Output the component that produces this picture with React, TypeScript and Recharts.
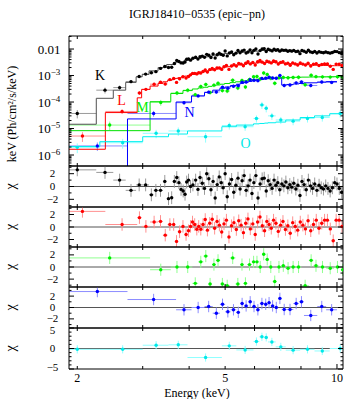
import React from "react";
import { ComposedChart, Scatter, Line, XAxis, YAxis, ErrorBar, ReferenceLine } from "recharts";

const FONT = "'Liberation Serif', 'Times New Roman', serif";

// energy range (keV) and flux range of the spectrum panel
const eRange = [1.9, 10.38];
const fluxRange = [3.85e-7, 0.031];

const xTicks = [2, 3, 4, 5, 6, 7, 8, 9, 10];
const xTickLabels = [2, 5, 10];
const fluxDecades = [-7, -6, -5, -4, -3, -2];
const fluxLabelDecades = [-6, -5, -4, -3, -2];

// K (black): bin edges, flux, chi, model steps
const kEdges = [1.75, 2.25, 2.5, 2.7, 2.88, 2.99, 3.12, 3.21, 3.3, 3.4, 3.48, 3.56, 3.62, 3.68, 3.73, 3.78, 3.83, 3.88, 3.92, 3.96, 4.01, 4.06, 4.13, 4.2, 4.25, 4.31, 4.37, 4.43, 4.49, 4.55, 4.61, 4.67, 4.73, 4.79, 4.85, 4.91, 4.97, 5.03, 5.1, 5.17, 5.24, 5.31, 5.38, 5.45, 5.52, 5.59, 5.66, 5.73, 5.8, 5.87, 5.94, 6.01, 6.09, 6.17, 6.25, 6.33, 6.41, 6.49, 6.57, 6.65, 6.73, 6.81, 6.89, 6.97, 7.06, 7.15, 7.24, 7.33, 7.42, 7.51, 7.6, 7.7, 7.8, 7.9, 8.0, 8.1, 8.21, 8.32, 8.43, 8.54, 8.65, 8.77, 8.89, 9.01, 9.13, 9.26, 9.39, 9.52, 9.65, 9.79, 9.93, 10.07, 10.22, 10.37];
const kFlux = [3.7e-5, 2.8e-4, 3.5e-4, 5.9e-4, 9.2e-4, 1.13e-3, 1.27e-3, 1.4e-3, 1.86e-3, 2.2e-3,
  2.0e-3, 2.05e-3, 2.85e-3, 3.7e-3, 3.4e-3, 3.0e-3, 2.95e-3, 3.25e-3, 4.1e-3, 4.25e-3,
  3.8e-3, 4.5e-3, 4.9e-3, 4.2e-3, 5.1e-3, 5.4e-3, 4.9e-3, 6.3e-3, 5.8e-3, 4.8e-3,
  6.5e-3, 4.6e-3, 6.1e-3, 7.0e-3, 6.3e-3, 5.8e-3, 8.4e-3, 5.5e-3, 7.1e-3, 7.7e-3,
  6.1e-3, 7.0e-3, 8.8e-3, 7.2e-3, 8.4e-3, 9.1e-3, 7.1e-3, 7.7e-3, 9.3e-3, 7.2e-3,
  8.9e-3, 1.0e-2, 6.5e-3, 8.7e-3, 1.0e-2, 1.02e-2, 8.1e-3, 9.8e-3, 9.1e-3, 8.5e-3,
  9.9e-3, 9.0e-3, 9.4e-3, 8.3e-3, 9.2e-3, 8.9e-3, 9.1e-3, 8.2e-3, 8.7e-3, 8.3e-3,
  8.9e-3, 8.0e-3, 8.2e-3, 6.7e-3, 8.8e-3, 8.3e-3, 7.5e-3, 9.0e-3, 7.8e-3, 7.4e-3,
  8.1e-3, 7.1e-3, 7.9e-3, 7.5e-3, 7.2e-3, 7.7e-3, 7.3e-3, 7.0e-3, 7.4e-3, 8.1e-3,
  8.0e-3, 7.3e-3, 6.8e-3];
const kChi = [2.6, 2.2, 1.0, -0.6, 0.25, 0.25, -1.3, -0.6, -0.6, 0.8,
  -1.9, -1.75, 0.8, 1.4, 0.6, -0.45, -0.7, -1.2, 0.7, 1.0,
  0, 0.25, 1.0, -0.45, 1.4, 0.5, -0.3, 2.0, 1.2, -0.5,
  0.8, -1.8, 0.3, 1.5, 0.6, -0.2, 2.0, -1.6, 0.4, 1.1,
  -0.9, 0.2, 1.3, -0.4, 0.9, 1.7, -0.6, 0.1, 1.0, -1.1,
  0.6, 1.7, -1.8, 0.4, 1.2, 1.3, -0.7, 0.9, 0.3, -0.3,
  1.0, 0.2, 0.6, -0.5, 0.4, 0.1, 0.7, -0.2, 0.3, -0.1,
  0.5, -0.4, 0.2, -1.4, 0.8, 0.3, -0.5, 1.0, 0.1, -0.3,
  0.4, -0.6, 0.2, -0.2, -0.4, 0.1, -0.3, -0.7, -0.2, 0.6,
  0.4, -0.3, -0.9];
const kModelEdges = [1.75, 2.25, 2.5, 2.7, 2.88, 2.99, 3.12, 3.3, 3.48, 3.68, 3.88, 4.06, 4.31, 4.61, 4.97, 5.38, 5.8, 6.25, 6.73, 7.24, 7.8, 8.43, 9.13, 9.79, 10.37];
const kModel = [1.45e-5, 1.38e-4, 2.8e-4, 5.5e-4, 8.9e-4, 1.1e-3, 1.5e-3, 2.0e-3, 2.6e-3, 3.2e-3, 3.8e-3, 4.4e-3, 5.1e-3, 5.9e-3, 6.8e-3, 7.6e-3, 8.3e-3, 8.8e-3, 8.8e-3, 8.4e-3, 8.0e-3, 7.7e-3, 7.6e-3, 7.6e-3];

// L (red)
const lEdges = [1.75, 2.38, 2.9, 2.98, 3.14, 3.3, 3.4, 3.5, 3.6, 3.67, 3.73, 3.81, 3.89, 3.96, 4.01, 4.06, 4.11, 4.17, 4.22, 4.27, 4.33, 4.39, 4.45, 4.51, 4.58, 4.65, 4.72, 4.79, 4.86, 4.93, 5.0, 5.08, 5.16, 5.24, 5.32, 5.4, 5.48, 5.56, 5.64, 5.72, 5.8, 5.89, 5.98, 6.07, 6.16, 6.25, 6.34, 6.43, 6.52, 6.61, 6.7, 6.8, 6.9, 7.0, 7.1, 7.21, 7.32, 7.43, 7.54, 7.66, 7.78, 7.9, 8.03, 8.16, 8.29, 8.43, 8.57, 8.72, 8.87, 9.02, 9.18, 9.34, 9.51, 9.68, 9.86, 10.04, 10.23, 10.4];
const lFlux = [5.2e-6, 4.4e-5, 2.2e-4, 3.0e-4, 4.7e-4, 5.6e-4, 4.8e-4, 7.0e-4, 7.7e-4, 5.5e-4,
  7.5e-4, 9.0e-4, 8.0e-4, 9.2e-4, 1.06e-3, 1.2e-3, 1.2e-3, 1.15e-3, 1.27e-3, 1.24e-3,
  1.42e-3, 1.62e-3, 1.36e-3, 1.67e-3, 1.86e-3, 1.66e-3, 1.95e-3, 1.92e-3, 1.7e-3, 2.13e-3,
  2.4e-3, 1.7e-3, 2.3e-3, 2.55e-3, 2.3e-3, 2.85e-3, 2.7e-3, 2.35e-3, 2.9e-3, 3.3e-3,
  2.75e-3, 3.1e-3, 2.5e-3, 3.3e-3, 3.7e-3, 3.2e-3, 2.85e-3, 3.5e-3, 3.25e-3, 3.0e-3,
  3.55e-3, 3.3e-3, 2.7e-3, 3.1e-3, 3.3e-3, 2.75e-3, 2.9e-3, 2.45e-3, 3.0e-3, 2.75e-3,
  2.5e-3, 2.95e-3, 2.7e-3, 2.5e-3, 2.9e-3, 2.3e-3, 2.65e-3, 2.8e-3, 2.4e-3, 2.6e-3,
  2.75e-3, 2.75e-3, 2.25e-3, 1.7e-3, 2.7e-3, 2.7e-3, 2.4e-3];
const lChi = [2.5, 0.4, 1.5, 0.1, 0.8, 0.9, -1.3, 0.4, 0.4, -2.3,
  -0.75, 0.1, -1.2, -0.6, 0.1, 0.8, 0.4, -0.35, 0.1, -0.35,
  0.4, 1.2, -0.5, 0.6, 1.25, -0.2, 0.9, 0.3, -0.8, 0.5,
  1.1, -1.6, 0.2, 0.7, -0.4, 1.0, 0.3, -0.9, 0.6, 1.3,
  -0.3, 0.5, -1.2, 0.8, 1.6, 0.2, -0.6, 0.9, 0.4, -0.2,
  1.1, 0.6, -0.7, 0.3, 0.9, -0.4, 0.2, -1.0, 0.7, 0.1,
  -0.5, 0.8, 0.3, -0.3, 1.0, -0.6, 0.4, 1.1, -0.2, 0.6,
  1.1, 1.1, -0.3, -2.2, 1.1, 1.1, 0.1];
const lModel = [1.65e-6, 4.0e-5, 1.44e-4, 3.0e-4, 4.0e-4, 5.0e-4, 5.8e-4, 6.6e-4, 7.3e-4, 7.8e-4,
  8.3e-4, 8.9e-4, 9.5e-4, 1.0e-3, 1.05e-3, 1.1e-3, 1.15e-3, 1.2e-3, 1.25e-3, 1.3e-3,
  1.35e-3, 1.4e-3, 1.45e-3, 1.55e-3, 1.6e-3, 1.7e-3, 1.75e-3, 1.85e-3, 1.9e-3, 2.0e-3,
  2.1e-3, 2.15e-3, 2.25e-3, 2.35e-3, 2.45e-3, 2.5e-3, 2.6e-3, 2.65e-3, 2.7e-3, 2.8e-3,
  2.85e-3, 2.9e-3, 2.95e-3, 3.0e-3, 3.05e-3, 3.1e-3, 3.1e-3, 3.1e-3, 3.1e-3, 3.1e-3,
  3.1e-3, 3.05e-3, 3.0e-3, 3.0e-3, 2.95e-3, 2.9e-3, 2.85e-3, 2.8e-3, 2.75e-3, 2.7e-3,
  2.7e-3, 2.65e-3, 2.6e-3, 2.6e-3, 2.55e-3, 2.5e-3, 2.5e-3, 2.45e-3, 2.45e-3, 2.4e-3,
  2.4e-3, 2.4e-3, 2.35e-3, 2.35e-3, 2.35e-3, 2.35e-3, 2.35e-3];

// M (green)
const mEdges = [1.75, 3.14, 3.57, 3.85, 4.08, 4.23, 4.37, 4.5, 4.61, 4.72, 4.85, 4.98, 5.15, 5.33, 5.49, 5.61, 5.73, 5.9, 6.03, 6.15, 6.28, 6.42, 6.56, 6.71, 6.89, 7.07, 7.27, 7.5, 7.74, 8.02, 8.4, 8.64, 8.92, 9.36, 9.82, 10.24, 10.48];
const mFlux = [1.35e-5, 9.6e-5, 2.2e-4, 2.8e-4, 1.9e-4, 3.85e-4, 4.6e-4, 2.3e-4, 4.35e-4, 5.1e-4,
  2.7e-4, 2.6e-4, 6.6e-4, 3.4e-4, 6.5e-4, 3.7e-4, 7.1e-4, 9.0e-4, 9.2e-4, 7.4e-4,
  1.25e-3, 1.1e-3, 7.9e-4, 5.1e-4, 8.2e-4, 8.5e-4, 8.2e-4, 8.5e-4, 8.6e-4, 4.5e-4,
  1.02e-3, 9.1e-4, 8.9e-4, 8.7e-4, 9.0e-4, 8.5e-4];
const mChi = [1.5, -0.45, 0, 0, -2.7, 0.85, 1.8, -2.8, 0.4, 1.1,
  -2.8, -3.1, 1.5, -2.8, 0.4, -2.7, 0.4, 0.85, 0.85, 0,
  2.1, 1.25, 0, -2.4, 0, 0.2, -0.2, 0, 0, -3.1,
  1.1, 0.2, 0, -0.2, 0, -0.45];
const mModel = [8.3e-6, 1.03e-4, 2.1e-4, 2.7e-4, 3.1e-4, 3.4e-4, 3.6e-4, 3.9e-4, 4.1e-4, 4.4e-4,
  4.7e-4, 5.0e-4, 5.4e-4, 5.8e-4, 6.1e-4, 6.3e-4, 6.7e-4, 7.0e-4, 7.2e-4, 7.4e-4,
  7.6e-4, 7.8e-4, 7.9e-4, 8.0e-4, 8.2e-4, 8.3e-4, 8.4e-4, 8.5e-4, 8.6e-4, 8.7e-4,
  8.8e-4, 8.8e-4, 8.9e-4, 9.0e-4, 9.0e-4, 9.1e-4];

// N (blue)
const nEdges = [1.8, 2.73, 3.69, 4.06, 4.4, 4.63, 4.84, 5.0, 5.17, 5.36, 5.49, 5.62, 5.77, 5.91, 6.05, 6.2, 6.36, 6.5, 6.63, 6.79, 6.94, 7.1, 7.32, 7.63, 7.9, 8.15, 8.85, 9.35, 10.0];
const nFlux = [2.2e-6, 3.7e-5, 9.4e-5, 1.7e-4, 2.36e-4, 2.4e-4, 3.6e-4, 3.3e-4, 3.95e-4, 4.1e-4,
  5.6e-4, 5.7e-4, 6.9e-4, 6.6e-4, 6.4e-4, 7.8e-4, 8.0e-4, 8.6e-4, 8.1e-4, 7.9e-4,
  1.0e-3, 4.2e-4, 4.4e-4, 5.3e-4, 5.75e-4, 4.2e-4, 5.7e-4, 5.5e-4];
const nChi = [2.8, 1.4, -0.4, 0, 0.17, -1.0, 0.56, -0.75, -0.4, -0.85,
  0.7, 0.28, 1.0, 0.17, -0.4, 0.7, 0.56, 0.85, 0.28, 0,
  1.6, -0.35, -0.35, 0.7, 1.0, -1.4, 0.17, -0.4];
const nModel = [1e-8, 2.3e-5, 1.0e-4, 1.7e-4, 2.3e-4, 2.8e-4, 3.3e-4, 3.7e-4, 4.2e-4, 4.7e-4,
  5.1e-4, 5.5e-4, 6.0e-4, 6.4e-4, 6.8e-4, 7.1e-4, 7.4e-4, 7.6e-4, 7.8e-4, 7.9e-4,
  8.0e-4, 4.4e-4, 4.6e-4, 4.8e-4, 5.0e-4, 5.3e-4, 5.6e-4, 5.9e-4];

// O (cyan)
const oEdges = [1.7, 2.3, 3.0, 3.52, 3.96, 4.9, 5.36, 5.96, 6.18, 6.38, 6.52, 6.84, 7.28, 7.96, 8.7, 9.56, 10.84];
const oFlux = [1.95e-6, 2.9e-6, 6.6e-6, 8.1e-6, 4.9e-6, 1.3e-5, 1.17e-5, 2.4e-5, 7.8e-5, 5.8e-5, 3.0e-5, 2.1e-5, 1.9e-5, 2.4e-5, 2.6e-5, 3.7e-5];
const oChi = [-0.2, -0.2, 0.8, 0.9, -2.2, 0.65, -0.35, 1.7, 2.85, 2.7, 1.6, 0.4, -0.4, -0.2, -0.6, 0];
const oModel = [2.1e-6, 3.2e-6, 4.9e-6, 6.2e-6, 8.1e-6, 1.17e-5, 1.35e-5, 1.5e-5, 1.55e-5, 1.6e-5, 1.65e-5, 1.75e-5, 2.1e-5, 2.6e-5, 3.0e-5, 3.6e-5];

type Spec = {
  color: string; bar: string; line: string;
  edges: number[]; flux: number[]; chi: number[];
  modelEdges: number[]; model: number[];
  errLead: number[]; errRest: number;
};

const series: Spec[] = [
  { color: "#000000", bar: "#9a9a9a", line: "#505050", edges: kEdges, flux: kFlux, chi: kChi, modelEdges: kModelEdges, model: kModel, errLead: [0.35, 0.25, 0.2, 0.15], errRest: 0.1 },
  { color: "#ff0000", bar: "#ff9090", line: "#ff0000", edges: lEdges, flux: lFlux, chi: lChi, modelEdges: lEdges, model: lModel, errLead: [0.4, 0.2, 0.15], errRest: 0.12 },
  { color: "#00ee00", bar: "#90ff90", line: "#00e000", edges: mEdges, flux: mFlux, chi: mChi, modelEdges: mEdges, model: mModel, errLead: [0.35, 0.25], errRest: 0.18 },
  { color: "#0000ff", bar: "#8c8cff", line: "#0000ff", edges: nEdges, flux: nFlux, chi: nChi, modelEdges: nEdges, model: nModel, errLead: [0.35, 0.25], errRest: 0.15 },
  { color: "#00e8e8", bar: "#90ffff", line: "#00f0f0", edges: oEdges, flux: oFlux, chi: oChi, modelEdges: oEdges, model: oModel, errLead: [0.4, 0.4, 0.35, 0.35, 0.4], errRest: 0.3 },
];

const residPanels = [
  { top: 166, h: 41, lim: 3.2, ticks: [-3, -2, -1, 0, 1, 2, 3], majors: [-2, 0, 2] },
  { top: 207, h: 40, lim: 3.2, ticks: [-3, -2, -1, 0, 1, 2, 3], majors: [-2, 0, 2] },
  { top: 247, h: 40, lim: 3.3, ticks: [-3, -2, -1, 0, 1, 2, 3], majors: [-2, 0, 2] },
  { top: 287, h: 41, lim: 3.6, ticks: [-3, -2, -1, 0, 1, 2, 3], majors: [-2, 0, 2] },
  { top: 328, h: 41, lim: 5, ticks: [-5, -4, -3, -2, -1, 0, 1, 2, 3, 4, 5], majors: [-5, 0, 5] },
];

const fluxTicks: number[] = [];
fluxDecades.forEach((d) => {
  for (let m = 1; m <= 9; m++) {
    const v = m * Math.pow(10, d);
    if (v >= fluxRange[0] && v <= fluxRange[1]) fluxTicks.push(v);
  }
});

// error bars are cut at the frame (recharts does not clip them)
function xErr(lo: number, hi: number, x: number) {
  return [x - Math.max(lo, eRange[0]), Math.min(hi, eRange[1]) - x];
}

function dataPoints(s: Spec) {
  return s.flux.map((f, i) => {
    const lo = s.edges[i], hi = s.edges[i + 1], x = (lo + hi) / 2;
    const rel = i < s.errLead.length ? s.errLead[i] : s.errRest;
    return {
      x, y: f, ex: xErr(lo, hi, x),
      ey: [Math.min(f * rel, f - fluxRange[0]), Math.min(f * rel, fluxRange[1] - f)],
    };
  });
}

function chiPoints(s: Spec, lim: number) {
  return s.chi.map((c, i) => {
    const lo = s.edges[i], hi = s.edges[i + 1], x = (lo + hi) / 2;
    return { x, y: c, ex: xErr(lo, hi, x), ey: [Math.min(1, c + lim), Math.min(1, lim - c)] };
  });
}

function modelSteps(s: Spec) {
  return s.modelEdges.map((e, i) => ({ x: e, y: s.model[Math.min(i, s.model.length - 1)] }));
}

const dot = (color: string) => (p: any) => <circle cx={p.cx} cy={p.cy} r={1.7} fill={color} />;

function XTick(props: any) {
  const { x, y, payload, side, labels } = props;
  const v = payload.value;
  const len = v === 10 ? 5 : 3;
  const d = side === "bottom" ? -1 : 1;
  return (
    <g>
      <line x1={x} x2={x} y1={y} y2={y + d * len} stroke="#000" strokeWidth={1} />
      {labels && xTickLabels.includes(v) && (
        <text x={x} y={y + 13} textAnchor="middle" fontSize={12} fontFamily={FONT} fill="#000">{v}</text>
      )}
    </g>
  );
}

function FluxTick(props: any) {
  const { x, y, payload, side } = props;
  const v = payload.value;
  const exp = Math.floor(Math.log10(v) + 1e-9);
  const major = Math.abs(v / Math.pow(10, exp) - 1) < 1e-6;
  const len = major ? 5 : 2.5;
  const d = side === "left" ? 1 : -1;
  const showLabel = side === "left" && major && fluxLabelDecades.includes(exp);
  return (
    <g>
      <line x1={x} x2={x + d * len} y1={y} y2={y} stroke="#000" strokeWidth={1} />
      {showLabel && (
        <text x={x - 20} y={y + 4.5} textAnchor="middle" fontSize={13} fontFamily={FONT} fill="#000">
          {exp === -2 ? "0.01" : (
            <>
              <tspan>10</tspan>
              <tspan dy={-5} fontSize={9}>{`\u2212${-exp}`}</tspan>
            </>
          )}
        </text>
      )}
    </g>
  );
}

function ChiTick(props: any) {
  const { x, y, payload, side, majors, lim } = props;
  const v = payload.value;
  const major = majors.includes(v);
  const len = major ? 5 : 2.5;
  const d = side === "left" ? 1 : -1;
  // labels sitting on the frame are nudged inwards a little
  const nudge = v >= lim ? 2 : v <= -lim ? -2 : 0;
  return (
    <g>
      <line x1={x} x2={x + d * len} y1={y} y2={y} stroke="#000" strokeWidth={1} />
      {side === "left" && major && (
        <text x={x - 16.5} y={y + 3.5 + nudge} textAnchor="middle" fontSize={11} fontFamily={FONT} fill="#000">
          {v < 0 ? `\u2212${-v}` : `${v}`}
        </text>
      )}
    </g>
  );
}

// axes are 1px thick so that recharts still draws them
function xAxes(bottomLabels: boolean) {
  const common = {
    type: "number" as const, dataKey: "x", scale: "log" as const, domain: eRange, allowDataOverflow: true,
    ticks: xTicks, interval: 0, height: 1, tickSize: 0, tickMargin: 0, tickLine: false,
    axisLine: { stroke: "#000", strokeWidth: 1 },
  };
  return [
    <XAxis key="xb" xAxisId="b" orientation="bottom" {...common} tick={(p: any) => <XTick {...p} side="bottom" labels={bottomLabels} />} />,
    <XAxis key="xt" xAxisId="t" orientation="top" {...common} tick={(p: any) => <XTick {...p} side="top" labels={false} />} />,
  ];
}

function FluxPanel() {
  const yCommon = {
    type: "number" as const, dataKey: "y", scale: "log" as const, domain: fluxRange, allowDataOverflow: true,
    ticks: fluxTicks, interval: 0, width: 1, tickSize: 0, tickMargin: 0, tickLine: false,
    axisLine: { stroke: "#000", strokeWidth: 1 },
  };
  return (
    <ComposedChart width={350} height={167} margin={{ top: 35, right: 6, bottom: 0, left: 68 }}>
      {series.map((s, i) => (
        <Scatter key={`d${i}`} xAxisId="b" yAxisId="l" data={dataPoints(s)} isAnimationActive={false} shape={dot(s.color)}>
          <ErrorBar dataKey="ex" direction="x" width={0} stroke={s.bar} strokeWidth={1} isAnimationActive={false} />
          <ErrorBar dataKey="ey" direction="y" width={0} stroke={s.bar} strokeWidth={1} isAnimationActive={false} />
        </Scatter>
      ))}
      {series.map((s, i) => (
        <Line key={`m${i}`} xAxisId="b" yAxisId="l" data={modelSteps(s)} dataKey="y" type="stepAfter"
          stroke={s.line} strokeWidth={1} dot={false} activeDot={false} isAnimationActive={false} />
      ))}
      {xAxes(false)}
      <YAxis yAxisId="l" orientation="left" {...yCommon} tick={(p: any) => <FluxTick {...p} side="left" />} />
      <YAxis yAxisId="r" orientation="right" {...yCommon} tick={(p: any) => <FluxTick {...p} side="right" />} />
    </ComposedChart>
  );
}

function ChiPanel({ s, panel, last }: { s: Spec; panel: typeof residPanels[number]; last: boolean }) {
  const yCommon = {
    type: "number" as const, dataKey: "y", domain: [-panel.lim, panel.lim], allowDataOverflow: true,
    ticks: panel.ticks, interval: 0, width: 1, tickSize: 0, tickMargin: 0, tickLine: false,
    axisLine: { stroke: "#000", strokeWidth: 1 },
  };
  return (
    <ComposedChart width={350} height={panel.h + 2} margin={{ top: 0, right: 6, bottom: 0, left: 68 }}>
      <ReferenceLine xAxisId="b" yAxisId="l" y={0} stroke="#555" strokeWidth={1} />
      <Scatter xAxisId="b" yAxisId="l" data={chiPoints(s, panel.lim)} isAnimationActive={false} shape={dot(s.color)}>
        <ErrorBar dataKey="ex" direction="x" width={0} stroke={s.bar} strokeWidth={1} isAnimationActive={false} />
        <ErrorBar dataKey="ey" direction="y" width={0} stroke={s.bar} strokeWidth={1} isAnimationActive={false} />
      </Scatter>
      {xAxes(last)}
      <YAxis yAxisId="l" orientation="left" {...yCommon} tick={(p: any) => <ChiTick {...p} side="left" majors={panel.majors} lim={panel.lim} />} />
      <YAxis yAxisId="r" orientation="right" {...yCommon} tick={(p: any) => <ChiTick {...p} side="right" majors={panel.majors} lim={panel.lim} />} />
    </ComposedChart>
  );
}

const letters = [
  { t: "K", x: 100, y: 80, c: "#000000" },
  { t: "L", x: 121.5, y: 105, c: "#ff0000" },
  { t: "M", x: 142.5, y: 112, c: "#00ee00" },
  { t: "N", x: 189.5, y: 117, c: "#0000ff" },
  { t: "O", x: 245.5, y: 148, c: "#00e8e8" },
];

export default function App() {
  return (
    <div style={{ position: "absolute", left: 0, top: 0, width: 350, height: 399, background: "#fff" }}>
      <style>{`.recharts-surface{overflow:visible}`}</style>
      <div style={{ position: "absolute", left: 0, top: 0 }}>
        <FluxPanel />
      </div>
      {residPanels.map((p, i) => (
        <div key={i} style={{ position: "absolute", left: 0, top: p.top - 1 }}>
          <ChiPanel s={series[i]} panel={p} last={i === residPanels.length - 1} />
        </div>
      ))}
      <svg width={350} height={399} style={{ position: "absolute", left: 0, top: 0, pointerEvents: "none" }}>
        <text x={197} y={18} textAnchor="middle" fontSize={12} fontFamily={FONT} fill="#000">
          IGRJ18410{"\u2212"}0535 (epic{"\u2212"}pn)
        </text>
        <text x={16} y={114} transform="rotate(-90 16 114)" textAnchor="middle" fontSize={12} fontFamily={FONT} fill="#000">
          keV (Ph/cm²/s/keV)
        </text>
        {residPanels.map((p, i) => (
          <text key={i} x={15} y={p.top + p.h / 2} transform={`rotate(-90 15 ${p.top + p.h / 2})`} textAnchor="middle"
            fontSize={14} fontFamily={FONT} fill="#000">χ</text>
        ))}
        {letters.map((l) => (
          <text key={l.t} x={l.x} y={l.y} textAnchor="middle" fontSize={14} fontFamily={FONT} fill={l.c}>{l.t}</text>
        ))}
        <text x={197} y={397} textAnchor="middle" fontSize={12} fontFamily={FONT} fill="#000">Energy (keV)</text>
      </svg>
    </div>
  );
}
